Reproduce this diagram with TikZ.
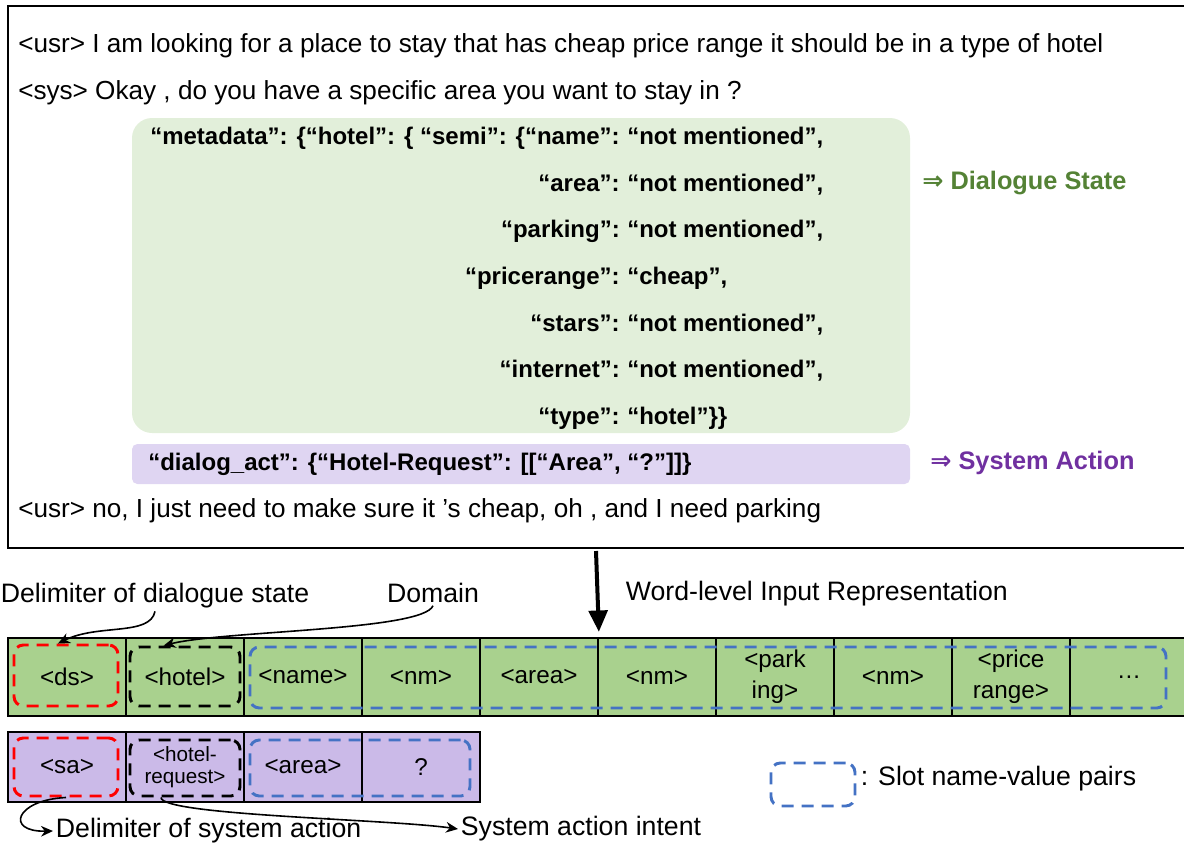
\documentclass[tikz,border=0pt]{standalone}
\usepackage{fontspec}
\setmainfont{Liberation Sans}
\newfontfamily\symfont{DejaVu Sans}
\usetikzlibrary{fit,arrows.meta}

\definecolor{cellgreen}{HTML}{A9D18E}
\definecolor{cellpurple}{HTML}{CBBAE8}
\definecolor{dsfill}{HTML}{E2EFDA}
\definecolor{safill}{HTML}{DFD5F2}
\definecolor{dstext}{HTML}{548235}
\definecolor{satext}{HTML}{7030A0}
\definecolor{slotblue}{HTML}{4472C4}

\tikzset{
  body/.style={anchor=base west, inner sep=0pt, font=\fontsize{19.6}{23}\selectfont},
  jsonkey/.style={anchor=base east, inner sep=0pt, font=\fontsize{18}{21}\selectfont\bfseries},
  jsonval/.style={anchor=base west, inner sep=0pt, font=\fontsize{18}{21}\selectfont\bfseries},
  tag/.style={anchor=base west, inner sep=0pt, font=\fontsize{19}{22}\selectfont\bfseries},
  lbl/.style={inner sep=2pt, font=\fontsize{20}{23}\selectfont},
  cell/.style={draw, line width=1.3pt, inner sep=0pt, align=center,
    minimum width=88.5pt, font=\fontsize{18.2}{23}\selectfont},
  smallcell/.style={cell, font=\fontsize{15.5}{17}\selectfont},
  dashbox/.style={draw, line width=2.2pt, dash pattern=on 9pt off 6pt,
    rounded corners=7pt, inner sep=0pt},
  conn/.style={-{Stealth[length=9pt,width=8pt]}, line width=1.2pt},
}

\begin{document}
\begin{tikzpicture}[x=0.75pt, y=-0.75pt]
\useasboundingbox (0,0) rectangle (1184,843);
\clip (0,0) rectangle (1184,843);

% Dialogue example
\draw[line width=1.1pt] (8,6) rectangle (1200,548);
\node[body] (usr1) at (18,52) {<usr> I am looking for a place to stay that has cheap price range it should be in a type of hotel};
\node[body] (sys1) at (18,99) {<sys> Okay , do you have a specific area you want to stay in ?};
\node[body] (usr2) at (18,517) {<usr> no, I just need to make sure it ’s cheap, oh , and I need parking};

% Dialogue state
\fill[dsfill, rounded corners=15pt] (132,118) rectangle (910,433);
\foreach \k/\v/\y [count=\i] in {
    {“metadata”: \{“hotel”: \{ “semi”: \{“name”:}/{“not mentioned”,}/144,
    {“area”:}/{“not mentioned”,}/191,
    {“parking”:}/{“not mentioned”,}/237,
    {“pricerange”:}/{“cheap”,}/284,
    {“stars”:}/{“not mentioned”,}/331,
    {“internet”:}/{“not mentioned”,}/377,
    {“type”:}/{“hotel”\}\}}/424} {
  \node[jsonkey] (key\i) at (620,\y) {\k};
  \node[jsonval] (val\i) at (627,\y) {\v};
}
\node[tag, text=dstext] (dslabel) at (922,189) {{\symfont\bfseries ⇒} Dialogue State};

% System action
\fill[safill, rounded corners=4pt] (132,444) rectangle (910,484);
\node[jsonval] (act) at (148,470) {“dialog\_act”: \{“Hotel-Request”: [[“Area”, “?”]]\}};
\node[tag, text=satext] (salabel) at (930,469) {{\symfont\bfseries ⇒} System Action};

% Word-level input representation
\foreach \t [count=\i] in {{<ds>},{<hotel>},{<name>},{<nm>},{<area>},{<nm>},{<park\\ing>},{<nm>},{<price\\range>},{\ldots}}
  \node[cell, fill=cellgreen, minimum height=58.5pt] (g\i) at ({67+118*(\i-1)},677) {\t};
\foreach \t/\s [count=\i] in {{<sa>}/cell,{<hotel-\\request>}/smallcell,{<area>}/cell,{?}/cell}
  \node[\s, fill=cellpurple, minimum height=52.5pt] (p\i) at ({67+118*(\i-1)},767) {\t};

\node[dashbox, red, fit={(14,645) (118,706)}] (dsbox) {};
\node[dashbox, black, fit={(130,647) (240,706)}] (hotbox) {};
\node[dashbox, slotblue, fit={(250,647) (1166,708)}] (slotbox) {};
\node[dashbox, red, fit={(14,738) (118,796)}] (sabox) {};
\node[dashbox, black, fit={(130,740) (240,796)}] (reqbox) {};
\node[dashbox, slotblue, fit={(250,740) (470,796)}] (slotbox2) {};

\coordinate (wltop) at (596,551);
\draw[line width=3pt, -{Triangle[length=16pt,width=14pt]}] (wltop) -- ([yshift=4pt]g5.north east);
\node[lbl, anchor=west] (wllabel) at (623,594) {Word-level Input Representation};

% Annotations
\node[lbl] (lblds) at (155,596) {Delimiter of dialogue state};
\node[lbl] (lbldom) at (433,593) {Domain};
\node[lbl, anchor=west] (lblsa) at (53,831) {Delimiter of system action};
\node[lbl, anchor=west] (lblint) at (458,829) {System action intent};
\draw[conn] (lblds.south) .. controls +(-5,25) and +(40,-20) .. ([xshift=-6pt]dsbox.north);
\draw[conn] (lbldom.south) .. controls +(-10,25) and +(60,-15) .. ([xshift=-16pt]hotbox.north);
\draw[conn] (sabox.south) .. controls (15,800) and (5,832) .. (lblsa.west);
\draw[conn] ([xshift=-18pt]reqbox.south) .. controls +(0,18) and +(-70,-10) .. (lblint.west);

% Legend
\node[dashbox, slotblue, fit={(771,763) (855,806)}] (legbox) {};
\node[lbl, anchor=west] (legtext) at (858,779) {: Slot name-value pairs};
\end{tikzpicture}
\end{document}
